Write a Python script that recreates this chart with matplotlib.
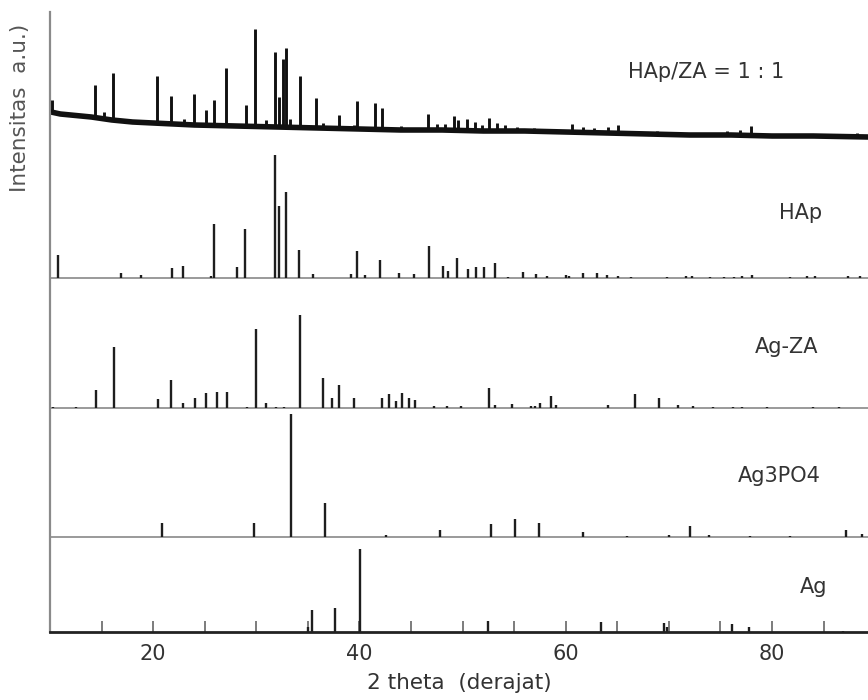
"""
plot.py

XRD pattern comparison: HAp/ZA composite vs reference phases
"""

import matplotlib
matplotlib.use("Agg")
import matplotlib.pyplot as plt
import numpy as np
from matplotlib.ticker import FixedLocator, MultipleLocator

# HAp/ZA = 1 : 1 (measured pattern, background + peaks above it)
hapza_bg_x = [10.1, 11, 12, 14, 16, 18, 20, 24, 28, 32, 36, 40, 44, 48,
              52, 56, 60, 64, 68, 72, 76, 80, 84, 89.3]
hapza_bg_y = [520, 518, 517, 515, 512, 510, 509, 507, 506, 505, 504, 503,
              502, 502, 501, 501, 500, 499, 498, 497, 497, 496, 496, 495]
hapza_pos = [10.2, 14.4, 15.2, 16.15, 20.4, 21.7, 23.0, 24.0, 25.1, 25.9,
             27.1, 29.0, 29.9, 30.9, 31.8, 32.2, 32.6, 32.9, 33.3, 34.2,
             35.8, 36.5, 38.0, 39.45, 39.8, 41.5, 42.2, 44.0, 46.65, 47.5,
             48.3, 49.2, 49.6, 50.4, 51.2, 51.9, 52.6, 53.3, 54.1, 55.3,
             56.9, 60.6, 61.7, 62.7, 64.1, 65.1, 66.3, 68.8, 75.6, 76.9,
             78.0, 88.2]
hapza_int = [12, 33, 7, 47, 47, 28, 6, 31, 15, 25,
             58, 21, 97, 7, 75, 30, 68, 79, 8, 52,
             30, 5, 14, 4, 28, 26, 22, 4, 16, 6,
             6, 14, 10, 12, 9, 6, 13, 8, 6, 4,
             3, 8, 5, 5, 6, 8, 3, 3, 4, 5,
             10, 4]

# HAp reference
hap_pos = [10.8, 16.9, 18.8, 21.8, 22.9, 25.6, 25.9, 28.1, 28.9, 31.8,
           32.2, 32.9, 34.1, 35.5, 39.2, 39.8, 40.5, 42.0, 43.8, 45.3,
           46.7, 48.1, 48.6, 49.5, 50.5, 51.3, 52.1, 53.1, 54.4, 55.9,
           57.1, 58.2, 60.0, 60.3, 61.7, 63.0, 64.0, 65.1, 66.3, 69.8,
           71.7, 72.2, 74.0, 75.3, 76.3, 77.1, 78.1, 81.7, 83.4, 84.2,
           87.4, 88.5]
hap_int = [23, 5, 3, 10, 12, 2, 54, 11, 49, 123,
           72, 86, 28, 4, 4, 27, 3, 18, 5, 4,
           32, 12, 7, 20, 9, 11, 11, 15, 1, 6,
           4, 2, 3, 2, 5, 5, 3, 2, 1, 1,
           2, 2, 1, 1, 1.5, 2, 3, 1.5, 2, 2,
           2, 2]

# Ag-ZA reference
agza_pos = [10.3, 12.5, 14.5, 16.2, 20.5, 21.75, 22.9, 24.05, 25.1, 26.15,
            27.2, 29.1, 30.0, 30.9, 31.9, 32.7, 34.25, 36.5, 37.3, 38.05,
            39.45, 42.2, 42.85, 43.5, 44.1, 44.8, 45.4, 47.2, 48.5, 49.8,
            52.6, 53.1, 54.8, 56.6, 57.0, 57.5, 58.6, 59.1, 64.1, 66.7,
            69.0, 70.9, 72.3, 74.3, 76.2, 77.1, 79.5, 84.0, 86.5]
agza_int = [1, 1, 18, 61, 9, 28, 5, 10, 15, 16,
            16, 1, 79, 5, 1, 1, 93, 30, 10, 23,
            10, 10, 14, 7, 15, 10, 8, 2, 2, 2,
            20, 3, 4, 2, 2, 5, 12, 3, 3, 14,
            10, 3, 2, 1.5, 1.5, 1.5, 1, 1, 1]

# Ag3PO4 reference
ag3po4_pos = [20.9, 29.8, 33.35, 36.65, 42.6, 47.85, 52.8, 55.1, 57.4,
              61.7, 65.9, 70.0, 72.0, 73.9, 77.9, 81.7, 87.2, 88.7]
ag3po4_int = [14, 14, 123, 34, 2, 7, 13, 18, 14,
              5, 1, 2, 11, 2, 1, 1, 7, 3]

# Ag reference
ag_pos = [35.05, 35.4, 37.6, 40.1, 52.5, 63.4, 69.5, 69.8, 76.1, 77.8, 86.9]
ag_int = [5, 22, 24, 83, 11, 10, 9, 5, 8, 5, 1]

labels = ["HAp/ZA = 1 : 1", "HAp", "Ag-ZA", "Ag3PO4", "Ag"]
x_ticks = [20, 40, 60, 80]


def plot_sticks(ax, pos, inten, base, lw=1.7):
    """Draw a reference pattern as sticks on its own baseline."""
    if base > 0:
        ax.axhline(base, color="#9a9a9a", lw=1.4, zorder=1)
    ax.vlines(pos, base, base + np.asarray(inten), color="#1e1e1e",
              lw=lw, zorder=2)


def plot_xrd(save_path="out.png"):
    fig = plt.figure(figsize=(8.68, 7.0), dpi=100)
    ax = fig.add_axes([50 / 868, 68 / 700, 818 / 868, 620 / 700])

    # measured composite pattern (thick line ~ noise band)
    ax.plot(hapza_bg_x, hapza_bg_y, color="#111111", lw=4.0,
            solid_joinstyle="round", zorder=2)
    base = np.interp(hapza_pos, hapza_bg_x, hapza_bg_y)
    ax.vlines(hapza_pos, base, base + np.asarray(hapza_int),
              color="#111111", lw=2.1, zorder=3)

    # reference phases, stacked
    plot_sticks(ax, hap_pos, hap_int, 354)
    plot_sticks(ax, agza_pos, agza_int, 224)
    plot_sticks(ax, ag3po4_pos, ag3po4_int, 95)
    plot_sticks(ax, ag_pos, ag_int, 0)

    ax.set_xlim(10, 89.3)
    ax.set_ylim(0, 620)

    # labels of each pattern
    label_xy = [(0.802, 0.903), (0.917, 0.676), (0.901, 0.460),
                (0.891, 0.252), (0.933, 0.073)]
    for text, (lx, ly) in zip(labels, label_xy):
        ax.text(lx, ly, text, transform=ax.transAxes, fontsize=15,
                color="#333333", ha="center", va="center")

    # axes styling
    for side in ["top", "right"]:
        ax.spines[side].set_visible(False)
    ax.spines["left"].set_color("#8a8a8a")
    ax.spines["left"].set_linewidth(1.6)
    ax.spines["bottom"].set_color("#222222")
    ax.spines["bottom"].set_linewidth(2.0)

    ax.xaxis.set_major_locator(FixedLocator(x_ticks))
    ax.xaxis.set_minor_locator(MultipleLocator(5))
    ax.tick_params(axis="x", which="both", direction="in", length=8,
                   width=1.2, color="#666666")
    ax.tick_params(axis="x", which="major", labelsize=15,
                   labelcolor="#333333", pad=9)
    ax.set_yticks([])

    ax.set_xlabel("2 theta  (derajat)", fontsize=15.5, color="#333333",
                  labelpad=6)
    fig.text(20 / 868, 1 - 108 / 700, "Intensitas  a.u.)", rotation=90,
             fontsize=15.5, color="#555555", ha="center", va="center")

    fig.savefig(save_path, dpi=100)
    plt.close(fig)


if __name__ == "__main__":
    plot_xrd("out.png")
